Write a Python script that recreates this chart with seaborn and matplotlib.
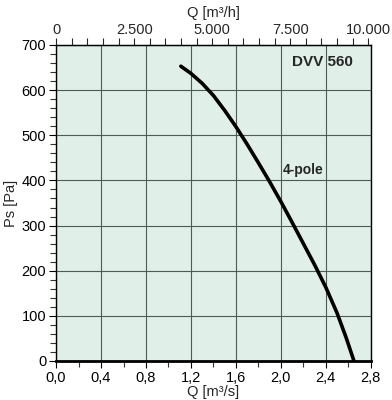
import pandas as pd
import matplotlib
matplotlib.use("Agg")
import matplotlib.pyplot as plt
from matplotlib.ticker import MultipleLocator, FuncFormatter
import seaborn as sns

# curve (Q in m3/s, Ps in Pa)
flow_m3s = [1.11, 1.20, 1.30, 1.40, 1.50, 1.60, 1.70, 1.80, 1.90, 2.00,
            2.10, 2.20, 2.30, 2.40, 2.50, 2.58, 2.65]
pressure_pa = [653, 637, 615, 588, 555, 519, 480, 439, 397, 353,
               307, 260, 213, 163, 106, 52, 0]
model_label = "DVV 560"
curve_label = "4-pole"

df = pd.DataFrame({"Q": flow_m3s, "Ps": pressure_pa})

sns.set_style("ticks")
plt.rcParams["font.family"] = ["Liberation Sans", "DejaVu Sans"]

fig = plt.figure(figsize=(3.92, 4.0), dpi=100)
ax = fig.add_axes([0.143, 0.0975, 0.803, 0.79])
ax.set_facecolor("#e0f0e8")

sns.lineplot(data=df, x="Q", y="Ps", ax=ax, color="black", lw=2.6, sort=False)

ax.set_xlim(0, 2.8)
ax.set_ylim(0, 700)
ax.xaxis.set_major_locator(MultipleLocator(0.4))
ax.xaxis.set_minor_locator(MultipleLocator(0.2))
ax.yaxis.set_major_locator(MultipleLocator(100))
ax.yaxis.set_minor_locator(MultipleLocator(20))
ax.xaxis.set_major_formatter(FuncFormatter(lambda v, p: f"{v:.1f}".replace(".", ",")))
ax.grid(True, which="major", color="#4d5d55", lw=0.8)
ax.set_axisbelow(True)

ax.tick_params(which="major", length=5, width=0.8, labelsize=10.5, colors="black", pad=2)
ax.tick_params(which="minor", length=4, width=0.8, colors="#333333")
ax.set_xlabel("Q [m³/s]", fontsize=10.5, labelpad=0)
ax.set_ylabel("Ps [Pa]", fontsize=10.5, labelpad=3)

for side in ["left", "top", "right"]:
    ax.spines[side].set_color("black")
    ax.spines[side].set_linewidth(1.0)
ax.spines["bottom"].set_linewidth(2.0)
ax.spines["bottom"].set_color("black")

top = ax.secondary_xaxis("top", functions=(lambda q: q * 3600, lambda h: h / 3600))
top.xaxis.set_major_locator(MultipleLocator(2500))
top.xaxis.set_minor_locator(MultipleLocator(500))
top.xaxis.set_major_formatter(
    FuncFormatter(lambda v, p: f"{int(round(v)):,}".replace(",", ".")))
top.tick_params(which="major", length=5, width=0.8, labelsize=10.5, pad=1)
top.tick_params(which="minor", length=5, width=0.8)
top.set_xlabel("Q [m³/h]", fontsize=10.5, labelpad=4)

ax.text(2.10, 662, model_label, fontsize=11, fontweight="bold", va="center", ha="left")
ax.text(2.02, 423, curve_label, fontsize=10, fontweight="bold", va="center", ha="left")

fig.savefig("out.png", dpi=100)
